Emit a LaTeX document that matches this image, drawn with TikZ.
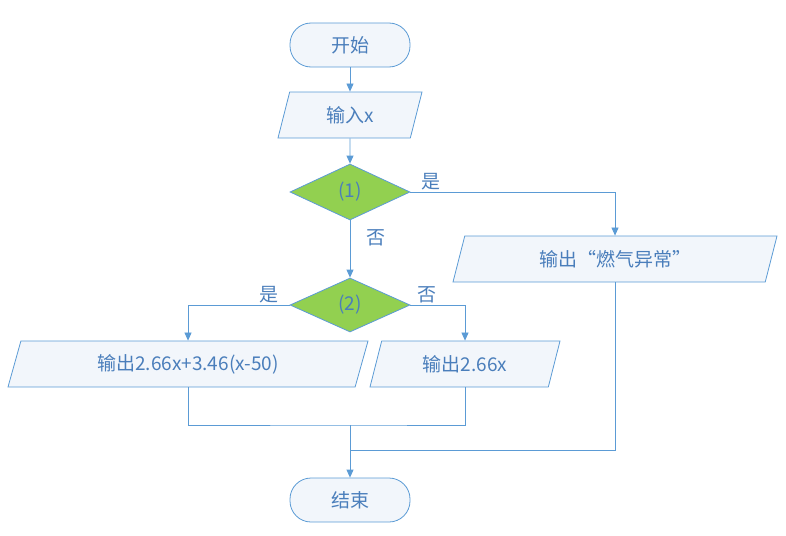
\documentclass[tikz,border=0pt]{standalone}
\usepackage{fontspec}
\setmainfont{Carlito}
\newfontfamily\cjk{Noto Sans CJK SC}
\usetikzlibrary{shapes.geometric,arrows.meta}
\definecolor{lineblue}{HTML}{5B9BD5}
\definecolor{textblue}{HTML}{4A7EBB}
\definecolor{boxfill}{HTML}{F2F6FB}
\definecolor{decgreen}{HTML}{92D050}
\tikzset{
  base/.style={draw=lineblue,thick,text=textblue,font=\fontsize{19}{22}\selectfont\cjk,inner sep=2pt},
  term/.style={base,rounded corners=21pt,fill=boxfill,minimum width=120pt,minimum height=44pt},
  io/.style={base,trapezium,trapezium left angle=61.5,trapezium right angle=118.5,trapezium stretches body,fill=boxfill,minimum height=46pt},
  dec/.style={base,diamond,aspect=2.2,fill=decgreen,minimum width=120pt,minimum height=56pt,inner sep=0pt},
  flow/.style={draw=lineblue,thick,-{Triangle[width=7pt,length=8pt]}},
  link/.style={draw=lineblue,thick},
  lab/.style={text=textblue,font=\fontsize{19}{22}\selectfont\cjk,inner sep=2pt}
}
\begin{document}
\begin{tikzpicture}[x=1pt,y=-1pt]
  \useasboundingbox (0,0) rectangle (786,535);
  \node[term] (start) at (350,45) {开始};
  \node[io,minimum width=144pt] (input) at (350,115) {输入x};
  \node[dec] (dec1) at (350,192) {(1)};
  \node[io,minimum width=324pt] (warn) at (615,259) {输出“燃气异常”};
  \node[dec,minimum height=54pt] (dec2) at (350,305) {(2)};
  \node[io,minimum width=360pt] (outa) at (188,364) {输出2.66x+3.46(x-50)};
  \node[io,minimum width=190pt] (outb) at (465,364) {输出2.66x};
  \node[term] (stop) at (350,500) {结束};
  \coordinate (joina) at (350,425);
  \coordinate (joinb) at (350,450);
  % main column
  \draw[flow] (start) -- (input);
  \draw[flow] (input) -- (dec1);
  \draw[flow] (dec1) -- (dec2) node[lab,pos=0.3,right=14pt] {否};
  \draw[flow] (dec1.east) -| (warn.north) node[lab,pos=0.05,above] {是};
  \draw[flow] (dec2.west) -| (outa.north) node[lab,pos=0.1,above] {是};
  \draw[flow] (dec2.east) -| (outb.north) node[lab,pos=0.15,above] {否};
  % merge
  \draw[link] (outa.south) |- (joina) -| (outb.south);
  \draw[link] (warn.south) |- (joinb);
  \draw[flow] (joina) -- (stop);
\end{tikzpicture}
\end{document}
